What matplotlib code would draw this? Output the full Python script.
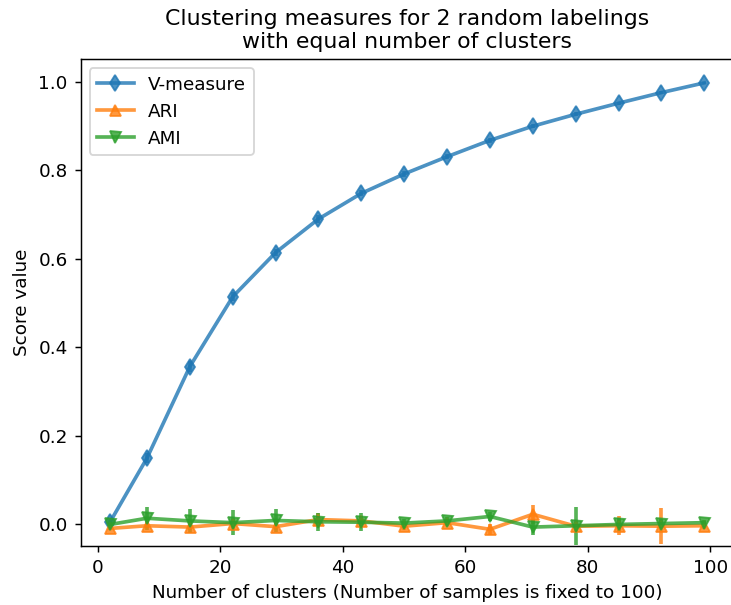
import matplotlib
matplotlib.use("Agg")
import matplotlib.pyplot as plt

# number of clusters used for each point
n_clusters = [2, 8, 15, 22, 29, 36, 43, 50, 57, 64, 71, 78, 85, 92, 99]

# mean scores
v_measure = [0.005, 0.149, 0.356, 0.514, 0.614, 0.690, 0.748, 0.792, 0.831,
             0.868, 0.900, 0.927, 0.952, 0.976, 0.998]
ari = [-0.010, -0.004, -0.007, 0.001, -0.006, 0.010, 0.007, -0.005, 0.003,
       -0.012, 0.022, -0.005, -0.004, -0.005, -0.004]
ami = [-0.001, 0.013, 0.007, 0.003, 0.008, 0.005, 0.004, 0.002, 0.007,
       0.017, -0.007, -0.004, -0.001, 0.001, 0.003]

# standard deviations (error bars)
v_std = [0.003, 0.012, 0.012, 0.010, 0.008, 0.008, 0.007, 0.006, 0.006,
         0.005, 0.005, 0.004, 0.003, 0.003, 0.002]
ari_std = [0.003, 0.006, 0.006, 0.010, 0.008, 0.015, 0.010, 0.008, 0.008,
           0.013, 0.022, 0.010, 0.022, 0.041, 0.008]
ami_std = [0.008, 0.026, 0.028, 0.029, 0.025, 0.020, 0.020, 0.010, 0.008,
           0.010, 0.019, 0.043, 0.015, 0.010, 0.006]

series = [
    ("V-measure", v_measure, v_std, "d"),
    ("ARI", ari, ari_std, "^"),
    ("AMI", ami, ami_std, "v"),
]

dpi = 132
fig = plt.figure(figsize=(731 / dpi, 605 / dpi), dpi=dpi)
ax = fig.add_axes([80.5 / 731, 59 / 605, (734 - 80.5) / 731, 487 / 605])

handles = []
for name, mean, std, marker in series:
    h = ax.errorbar(n_clusters, mean, std, alpha=0.8, linewidth=2, marker=marker)
    handles.append(h[0])

ax.set_xlim(-2.85, 103.85)
ax.set_ylim(-0.0498, 1.052)
ax.set_title("Clustering measures for 2 random labelings\n"
             "with equal number of clusters")
ax.set_xlabel("Number of clusters (Number of samples is fixed to 100)")
ax.set_ylabel("Score value")
ax.legend(handles, [s[0] for s in series], loc="upper left")

fig.savefig("out.png", dpi=dpi)
